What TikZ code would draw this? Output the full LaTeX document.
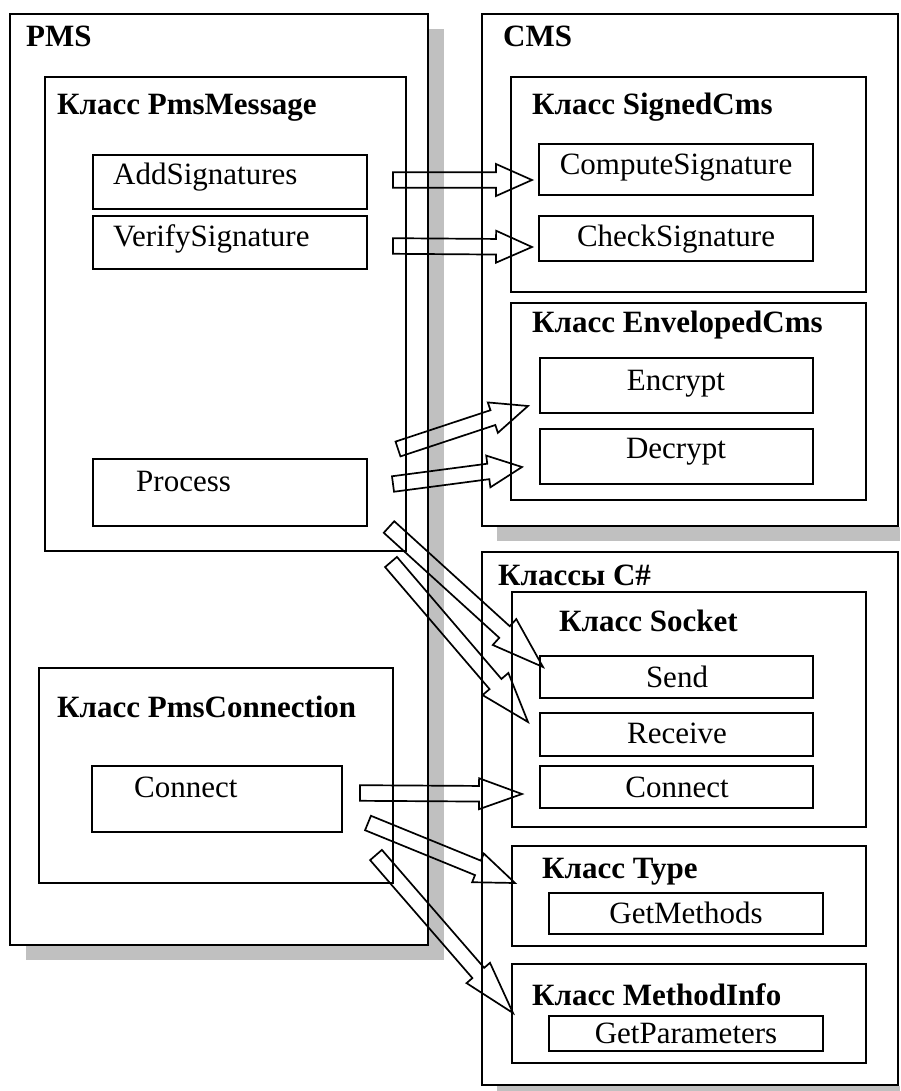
\documentclass[tikz,border=0pt]{standalone}
\usepackage{fontspec}
\setmainfont{Liberation Serif}
\usetikzlibrary{calc}
\definecolor{shadowgray}{HTML}{C0C0C0}
\tikzset{
  frame/.style={draw=black, line width=2pt, fill=white, inner sep=0pt, outer sep=0pt},
  boldlbl/.style={font=\fontsize{31}{37}\selectfont\bfseries, inner sep=0pt, anchor=base west},
  plainlbl/.style={font=\fontsize{31}{37}\selectfont, inner sep=0pt, anchor=base west},
  plainctr/.style={font=\fontsize{31}{37}\selectfont, inner sep=0pt, anchor=base},
  barrow/.style={draw=black, line width=1.7pt, line join=miter, fill=none}
}
\newcommand\mkbox[5]{\node[frame, minimum width={(#4-#2)*1pt}, minimum height={(#5-#3)*1pt}] (#1) at ({(#2+#4)/2},{(#3+#5)/2}) {};}
% #1 head length, #2 head half width, #3 tail, #4 tip
\newcommand\blockarrow[4]{%
  \coordinate (ban) at ($(#4)!#1pt!(#3)$);
  \draw[barrow] ($(#3)!7.8pt!90:(#4)$) -- ($(ban)!7.8pt!-90:(#3)$) -- ($(ban)!#2pt!-90:(#3)$) -- (#4) -- ($(ban)!#2pt!90:(#3)$) -- ($(ban)!7.8pt!90:(#3)$) -- ($(#3)!7.8pt!-90:(#4)$) -- cycle;}
\begin{document}
\begin{tikzpicture}[x=1pt, y=-1pt]
\useasboundingbox (0,0) rectangle (900,1091);
% ---- PMS ----
\fill[shadowgray] (26,29) rectangle (444,960);
\mkbox{pms}{10}{14}{428}{945}
\node[boldlbl] (pmslbl) at (26,47) {PMS};
\mkbox{pmsmsg}{45}{77}{406}{551}
\node[boldlbl] (pmsmsglbl) at (57,115) {Класс PmsMessage};
\mkbox{addsig}{93}{155}{367}{209}
\node[plainlbl] (addsiglbl) at (113,185) {AddSignatures};
\mkbox{versig}{93}{216}{367}{269}
\node[plainlbl] (versiglbl) at (113,247) {VerifySignature};
\mkbox{process}{93}{459}{367}{526}
\node[plainlbl] (processlbl) at (136,491) {Process};
\mkbox{pmsconn}{39}{668}{393}{883}
\node[boldlbl] (pmsconnlbl) at (57,717) {Класс PmsConnection};
\mkbox{connl}{92}{766}{342}{832}
\node[plainlbl] (connllbl) at (134,797) {Connect};
% ---- CMS ----
\fill[shadowgray] (497,527) rectangle (900,541);
\mkbox{cms}{482}{14}{898}{526}
\node[boldlbl] (cmslbl) at (503,47) {CMS};
\mkbox{signed}{511}{77}{866}{292}
\node[boldlbl] (signedlbl) at (532,115) {Класс SignedCms};
\mkbox{compute}{539}{144}{813}{195}
\node[plainctr] (computelbl) at (676,175) {ComputeSignature};
\mkbox{check}{539}{216}{813}{261}
\node[plainctr] (checklbl) at (676,247) {CheckSignature};
\mkbox{envel}{511}{303}{866}{500}
\node[boldlbl] (envellbl) at (532,332) {Класс EnvelopedCms};
\mkbox{encrypt}{540}{358}{813}{413}
\node[plainctr] (encryptlbl) at (676,390) {Encrypt};
\mkbox{decrypt}{540}{429}{813}{484}
\node[plainctr] (decryptlbl) at (676,458) {Decrypt};
% ---- C# ----
\fill[shadowgray] (497,1086) rectangle (900,1091);
\mkbox{csharp}{482}{552}{898}{1085}
\node[boldlbl] (csharplbl) at (498,585) {Классы C\#};
\mkbox{socket}{512}{592}{866}{827}
\node[boldlbl] (socketlbl) at (559,631) {Класс Socket};
\mkbox{send}{540}{656}{813}{698}
\node[plainctr] (sendlbl) at (677,687) {Send};
\mkbox{receive}{540}{713}{813}{756}
\node[plainctr] (receivelbl) at (677,743) {Receive};
\mkbox{connr}{540}{766}{813}{808}
\node[plainctr] (connrlbl) at (677,797) {Connect};
\mkbox{type}{512}{846}{866}{946}
\node[boldlbl] (typelbl) at (542,878) {Класс Type};
\mkbox{getmeth}{549}{893}{823}{934}
\node[plainctr] (getmethlbl) at (686,923) {GetMethods};
\mkbox{minfo}{512}{964}{866}{1063}
\node[boldlbl] (minfolbl) at (532,1005) {Класс MethodInfo};
\mkbox{getpar}{549}{1016}{823}{1051}
\node[plainctr] (getparlbl) at (686,1043) {GetParameters};
% ---- arrows ----
\coordinate (a1t) at (393,180); \coordinate (a1h) at (532,180);
\coordinate (a2t) at (393,246); \coordinate (a2h) at (532,247);
\coordinate (a3t) at (398,449); \coordinate (a3h) at (528,406);
\coordinate (a4t) at (393,484); \coordinate (a4h) at (522,467);
\coordinate (a5t) at (389,527); \coordinate (a5h) at (543,667);
\coordinate (a6t) at (391,562); \coordinate (a6h) at (528,722);
\coordinate (a7t) at (360,793); \coordinate (a7h) at (522,794);
\coordinate (a8t) at (368,823); \coordinate (a8h) at (515,883);
\coordinate (a9t) at (376,855); \coordinate (a9h) at (513,1013);
\blockarrow{36}{16}{a1t}{a1h}
\blockarrow{36}{16}{a2t}{a2h}
\blockarrow{37}{16}{a3t}{a3h}
\blockarrow{34}{16}{a4t}{a4h}
\blockarrow{52}{17.5}{a5t}{a5h}
\blockarrow{50}{17}{a6t}{a6h}
\blockarrow{43}{15.5}{a7t}{a7h}
\blockarrow{40}{15.5}{a8t}{a8h}
\blockarrow{53}{15.5}{a9t}{a9h}
\end{tikzpicture}
\end{document}
